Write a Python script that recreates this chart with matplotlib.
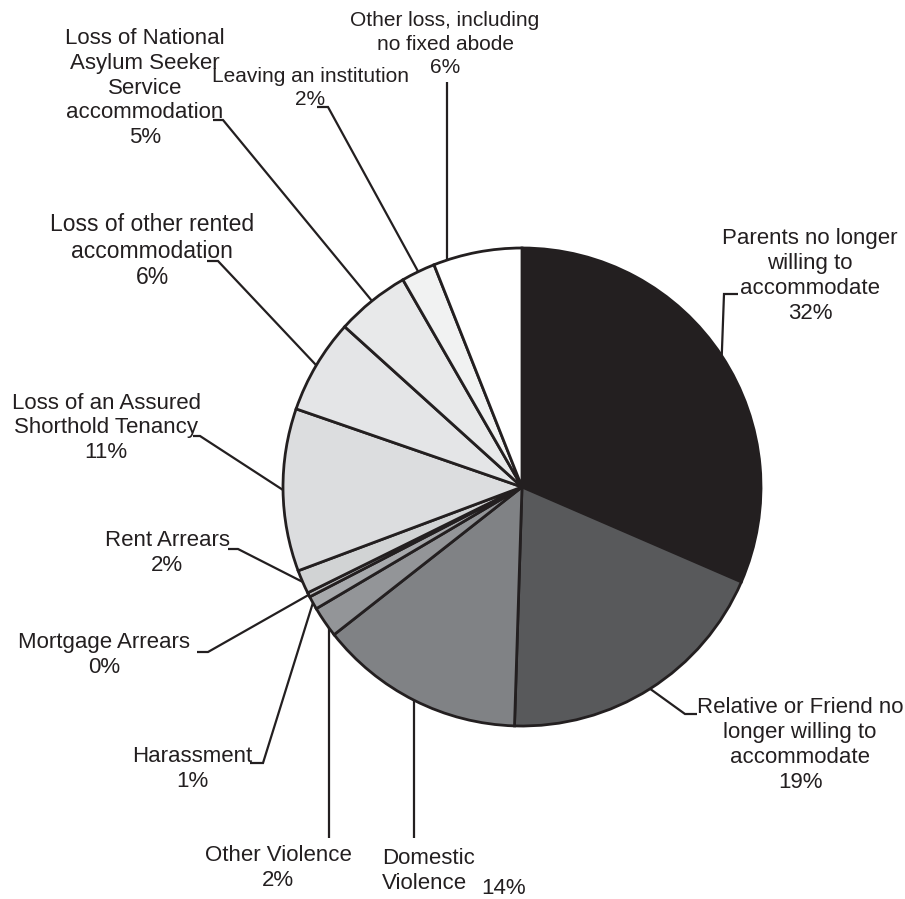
import numpy as np
import matplotlib.pyplot as plt

# Slice data (clockwise from 12 o'clock)
labels = ["Parents no longer\nwilling to\naccommodate",
          "Relative or Friend no\nlonger willing to\naccommodate",
          "Domestic\nViolence",
          "Other Violence",
          "Harassment",
          "Mortgage Arrears",
          "Rent Arrears",
          "Loss of an Assured\nShorthold Tenancy",
          "Loss of other rented\naccommodation",
          "Loss of National\nAsylum Seeker\nService\naccommodation",
          "Leaving an institution",
          "Other loss, including\nno fixed abode"]
values = [31.5, 19.0, 13.9, 2.1, 0.9, 0.3, 1.6, 11.0, 6.4, 5.0, 2.3, 6.0]
pct_labels = ["32%", "19%", "14%", "2%", "1%", "0%", "2%", "11%", "6%", "5%", "2%", "6%"]
colors = ["#231f20", "#58595b", "#808285", "#939598", "#a7a9ac", "#bcbec0",
          "#d1d3d4", "#dcdddf", "#e4e5e7", "#e8e9ea", "#f1f2f2", "#ffffff"]

# Label layout in pixel coordinates: text centre, elbow point, end of short tick
text_pos = [(810, 276), (800, 745), (382, 871), (278, 868), (192, 769), (104, 655),
            (167, 553), (106, 428), (152, 251), (145, 88), (310, 88), (445, 44)]
elbows = [(724, 294), (685, 714), (None, 838), (None, 838), (263, 763), (208, 652),
          (238, 549), (200, 436), (218, 261), (223, 120), (328, 107), (None, 82)]
ticks = [(738, 294), (697, 714), None, None, (250, 763), (197, 652),
         (228, 549), (193, 436), (207, 261), (213, 120), (317, 107), None]
attach = [0.5, 0.5, 0.5, 0.25, 0.5, 0.5, 0.5, 0.5, 0.5, 0.5, 0.5, 0.15]
font_sizes = [16, 16, 16, 16, 16, 16, 16, 16, 16.5, 16, 15, 15]

ink = "#231f20"
cx, cy, r = 522, 487, 239

fig = plt.figure(figsize=(9.05, 8.99), dpi=100)
ax = fig.add_axes([0, 0, 1, 1])

# y axis is inverted, so counterclock=True draws clockwise on screen
ax.pie(values, colors=colors, startangle=-90, counterclock=True,
       center=(cx, cy), radius=r,
       wedgeprops=dict(edgecolor=ink, linewidth=2.0))
ax.set_xlim(0, 905)
ax.set_ylim(899, 0)
ax.set_aspect("equal")
ax.axis("off")

cum = np.concatenate([[0], np.cumsum(values)]) / sum(values)
for i, lab in enumerate(labels):
    frac = cum[i] + attach[i] * (cum[i + 1] - cum[i])
    ang = 2 * np.pi * frac
    px = cx + r * np.sin(ang)
    py = cy - r * np.cos(ang)
    ex, ey = elbows[i]
    if ex is None:
        ax.plot([px, px], [py, ey], color=ink, lw=1.6, solid_capstyle="butt")
    else:
        tx, ty = ticks[i]
        ax.plot([px, ex, tx], [py, ey, ty], color=ink, lw=1.6,
                solid_joinstyle="miter", solid_capstyle="butt")

    x, y = text_pos[i]
    fs = font_sizes[i]
    if i == 2:
        # Domestic Violence: text left aligned, percentage to the side
        ax.text(x, y, lab, ha="left", va="center", fontsize=fs,
                color=ink, family="Liberation Sans", linespacing=1.3)
        ax.text(481, 889, pct_labels[i], ha="left", va="center",
                fontsize=fs, color=ink, family="Liberation Sans")
    else:
        ax.text(x, y, lab + "\n" + pct_labels[i], ha="center", va="center",
                multialignment="center", fontsize=fs, color=ink,
                family="Liberation Sans", linespacing=24.5 / (fs * 1.232))

fig.savefig("out.png", dpi=100)
